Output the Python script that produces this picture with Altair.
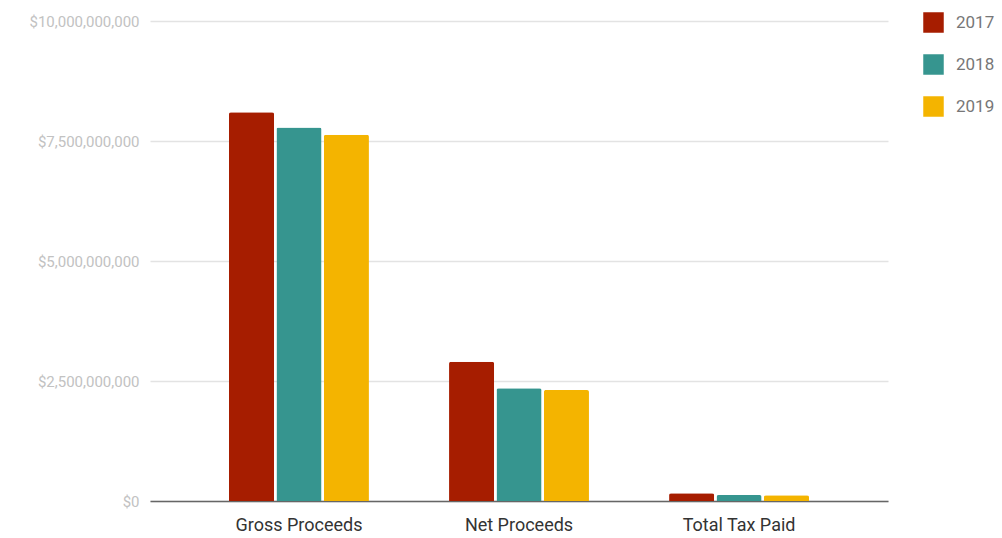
import altair as alt
import pandas as pd

categories = ["Gross Proceeds", "Net Proceeds", "Total Tax Paid"]
years = ["2017", "2018", "2019"]
values_2017 = [8.10e9, 2.90e9, 0.16e9]
values_2018 = [7.78e9, 2.35e9, 0.125e9]
values_2019 = [7.63e9, 2.31e9, 0.12e9]
colors = ["#a61d00", "#36958f", "#f4b400"]
y_ticks = [0, 2.5e9, 5e9, 7.5e9, 1e10]

rows = []
for year, vals in zip(years, [values_2017, values_2018, values_2019]):
    for cat, v in zip(categories, vals):
        rows.append({"category": cat, "year": year, "value": v})
df = pd.DataFrame(rows)

bars = alt.Chart(df).mark_bar(cornerRadiusTopLeft=2, cornerRadiusTopRight=2).encode(
    x=alt.X(
        "category:N",
        sort=categories,
        title=None,
        scale=alt.Scale(paddingInner=0.364, paddingOuter=0.359),
        axis=alt.Axis(
            labelAngle=0,
            labelFontSize=18,
            labelColor="#333333",
            labelFont="Roboto",
            labelPadding=15,
            ticks=False,
            domainColor="#666666",
            domainWidth=1.5,
            grid=False,
        ),
    ),
    xOffset=alt.XOffset("year:N", sort=years, scale=alt.Scale(paddingInner=0.05)),
    y=alt.Y(
        "value:Q",
        title=None,
        scale=alt.Scale(domain=[0, 1e10], nice=False),
        axis=alt.Axis(
            values=y_ticks,
            labelExpr="'$' + format(datum.value, ',')",
            labelFontSize=15,
            labelColor="#c2c2c2",
            labelFont="Roboto",
            labelPadding=11,
            ticks=False,
            domain=False,
            grid=True,
            gridColor="#e3e3e3",
            gridWidth=1.5,
        ),
    ),
    color=alt.Color(
        "year:N",
        sort=years,
        scale=alt.Scale(domain=years, range=colors),
        legend=alt.Legend(
            title=None,
            orient="none",
            legendX=773,
            legendY=-9,
            symbolType="square",
            symbolSize=420,
            symbolStrokeWidth=0,
            labelFontSize=17,
            labelColor="#777777",
            labelFont="Roboto",
            labelOffset=12,
            rowPadding=21,
        ),
    ),
)

chart = bars.properties(
    width=738,
    height=480,
    background="white",
    autosize=alt.AutoSizeParams(type="none"),
    padding={"left": 150, "top": 21, "right": 114, "bottom": 37},
).configure_view(stroke=None)

chart.save("out.html", embed_options={"renderer": "svg", "actions": False})
